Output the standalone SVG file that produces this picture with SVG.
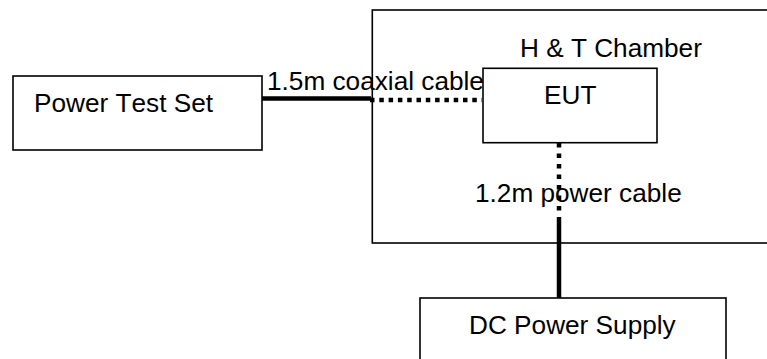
<svg xmlns="http://www.w3.org/2000/svg" width="767" height="359" viewBox="0 0 767 359">
<style>
.box{fill:#fff;stroke:#000;stroke-width:1.6}
.lbl{font-family:"Liberation Sans",Arial,sans-serif;font-size:26.2px;fill:#000;font-kerning:none}
.solid{stroke:#000;stroke-width:4.5;fill:none}
.dot{stroke:#000;stroke-width:4.5;fill:none}
</style>
<rect width="767" height="359" fill="#fff"/>
<g id="chamber">
<rect class="box" x="372.3" y="10" width="420" height="233"/>
<text class="lbl" x="520" y="56.5">H &amp; T Chamber</text>
</g>
<g id="power-test-set">
<rect class="box" x="13" y="76" width="249" height="74"/>
<text class="lbl" x="34" y="112">Power Test Set</text>
</g>
<g id="eut">
<rect class="box" x="483" y="68.3" width="174" height="74.4"/>
<text class="lbl" x="544" y="104">EUT</text>
</g>
<g id="dc-power-supply">
<rect class="box" x="420" y="298" width="306" height="80"/>
<text class="lbl" x="469" y="334">DC Power Supply</text>
</g>
<g id="connectors">
<line class="solid" x1="262" y1="98.5" x2="371" y2="98.5"/>
<line class="dot" x1="370" y1="100" x2="482" y2="100" stroke-dasharray="4.5 4.8"/>
<line class="dot" x1="559" y1="143" x2="559" y2="214" stroke-dasharray="4.5 6"/>
<line class="solid" x1="559" y1="217" x2="559" y2="298"/>
<text class="lbl" x="267" y="90">1.5m coaxial cable</text>
<text class="lbl" x="475" y="201.7">1.2m power cable</text>
</g>
</svg>
